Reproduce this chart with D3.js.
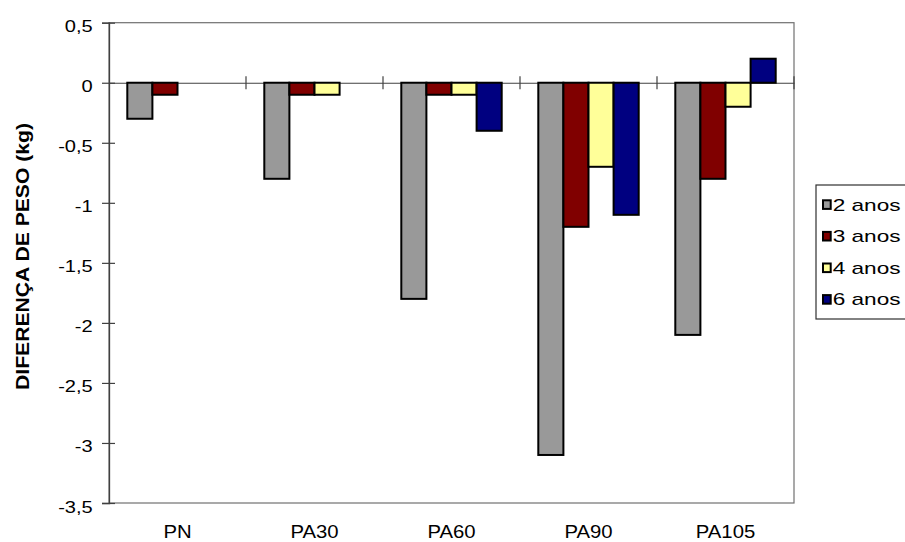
<!DOCTYPE html>
<html>
<head>
<meta charset="utf-8">
<script src="https://cdn.jsdelivr.net/npm/d3@7"></script>
<style>
  html, body { margin: 0; padding: 0; background: #fff; }
  svg { display: block; font-family: "Liberation Sans", Arial, sans-serif; }
</style>
</head>
<body>
<svg id="chart" width="905" height="542"></svg>
<script>
// Weight difference (kg) per treatment and age
const categories = ["PN", "PA30", "PA60", "PA90", "PA105"];
const seriesNames = ["2 anos", "3 anos", "4 anos", "6 anos"];
const anos2 = [-0.3, -0.8, -1.8, -3.1, -2.1];
const anos3 = [-0.1, -0.1, -0.1, -1.2, -0.8];
const anos4 = [null, -0.1, -0.1, -0.7, -0.2];
const anos6 = [null, null, -0.4, -1.1, 0.2];
const yTicks = [0.5, 0, -0.5, -1, -1.5, -2, -2.5, -3, -3.5];
const seriesColors = ["#999999", "#800000", "#FFFF99", "#000080"];
const yTitle = "DIFERENÇA DE PESO (kg)";

const seriesValues = [anos2, anos3, anos4, anos6];

const svg = d3.select("#chart");
const plot = { left: 109, right: 794, top: 22.7, bottom: 503 };

const x0 = d3.scaleBand().domain(categories).range([plot.left, plot.right]).paddingInner(0).paddingOuter(0);
const x1 = d3.scaleBand().domain(seriesNames).range([0, x0.bandwidth()]).paddingInner(0).paddingOuter(0.729);
const y = d3.scaleLinear().domain([-3.5, 0.5]).range([plot.bottom, plot.top]);

// decimal comma, plain hyphen for negatives
const locale = d3.formatLocale({ decimal: ",", thousands: ".", grouping: [3], currency: ["", ""], minus: "-" });
const fmt = v => (v === 0 ? "0" : locale.format("")(v));

// widen text horizontally to the chart's letter proportions
function stretch(sel, k) {
  sel.each(function () {
    const len = this.getComputedTextLength();
    d3.select(this).attr("textLength", len * k).attr("lengthAdjust", "spacingAndGlyphs");
  });
}

// plot area frame
svg.append("rect")
  .attr("x", plot.left).attr("y", plot.top)
  .attr("width", plot.right - plot.left).attr("height", plot.bottom - plot.top)
  .attr("fill", "none").attr("stroke", "#707070").attr("stroke-width", 1.2);

// value axis
const yAxis = svg.append("g")
  .attr("transform", `translate(${plot.left},0)`)
  .call(d3.axisLeft(y).tickValues(yTicks).tickSize(7).tickFormat(fmt));
yAxis.attr("font-family", null).attr("font-size", null);
yAxis.select(".domain").attr("stroke", "#404040").attr("stroke-width", 1.3);
yAxis.selectAll(".tick line").attr("x1", -7).attr("x2", 6).attr("stroke", "#404040").attr("stroke-width", 1.2);
yAxis.selectAll(".tick text")
  .attr("x", -16.3).attr("dy", null).attr("y", 9)
  .attr("font-size", 17)
  .attr("fill", "#000").attr("text-anchor", "end")
  .call(stretch, 1.18);

// category axis along zero
const xAxis = svg.append("g")
  .attr("transform", `translate(0,${y(0)})`)
  .call(d3.axisBottom(x0).tickSize(0).tickFormat(""));
xAxis.select(".domain").attr("stroke", "#404040").attr("stroke-width", 1.2);
xAxis.selectAll(".tick").remove();
const bounds = categories.map(c => x0(c)).concat([x0.range()[1]]);
xAxis.selectAll("line.bound")
  .data(bounds.slice(1))
  .join("line")
  .attr("class", "bound")
  .attr("x1", d => d).attr("x2", d => d)
  .attr("y1", -6.5).attr("y2", 6.5)
  .attr("stroke", "#404040").attr("stroke-width", 1.2);

// bars
const groups = svg.append("g").selectAll("g")
  .data(seriesNames.map((s, i) => ({ name: s, color: seriesColors[i], values: seriesValues[i] })))
  .join("g")
  .attr("fill", d => d.color);

groups.selectAll("rect")
  .data(d => d.values.map((v, j) => ({ cat: categories[j], name: d.name, v })).filter(e => e.v !== null))
  .join("rect")
  .attr("x", d => x0(d.cat) + x1(d.name))
  .attr("width", x1.bandwidth())
  .attr("y", d => y(Math.max(0, d.v)))
  .attr("height", d => Math.abs(y(d.v) - y(0)))
  .attr("stroke", "#000").attr("stroke-width", 2);

// category labels
svg.append("g").selectAll("text")
  .data(categories)
  .join("text")
  .attr("x", d => x0(d) + x0.bandwidth() / 2)
  .attr("y", 537.5)
  .attr("text-anchor", "middle")
  .attr("font-size", 17.5)
  .text(d => d)
  .call(stretch, 1.16);

// value axis title
svg.append("text")
  .attr("transform", "translate(29.3,256.5) rotate(-90)")
  .attr("text-anchor", "middle")
  .attr("font-size", 17.5)
  .attr("font-weight", "bold")
  .text(yTitle)
  .attr("textLength", 267).attr("lengthAdjust", "spacingAndGlyphs");

// legend
const legend = svg.append("g");
legend.append("rect")
  .attr("x", 816).attr("y", 185).attr("width", 120).attr("height", 134)
  .attr("fill", "#fff").attr("stroke", "#303030").attr("stroke-width", 1.2);
const items = legend.selectAll("g.item")
  .data(seriesNames.map((s, i) => ({ name: s, color: seriesColors[i] })))
  .join("g")
  .attr("class", "item")
  .attr("transform", (d, i) => `translate(0,${204.6 + i * 31.6})`);
items.append("rect")
  .attr("x", 823).attr("y", -4.3).attr("width", 7.7).attr("height", 8.6)
  .attr("fill", d => d.color).attr("stroke", "#000").attr("stroke-width", 2);
items.append("text")
  .attr("x", 832.7).attr("y", 6)
  .attr("font-size", 17)
  .text(d => d.name)
  .call(stretch, 1.33);
</script>
</body>
</html>
